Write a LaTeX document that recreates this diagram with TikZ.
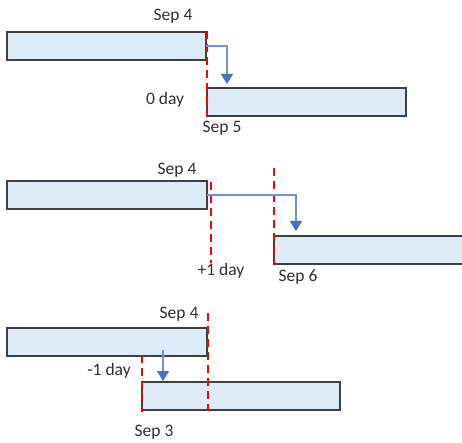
\documentclass[tikz,border=0pt]{standalone}
\usepackage{fontspec}
\setmainfont{Carlito}
\usetikzlibrary{arrows.meta}
\definecolor{barfill}{HTML}{DDEBF7}
\definecolor{barline}{HTML}{404040}
\definecolor{arrblue}{HTML}{4472C4}
\definecolor{arrline}{HTML}{6F93D6}
\definecolor{txt}{HTML}{303030}
\begin{document}
\begin{tikzpicture}[x=1pt,y=-1pt,
  bar/.style={draw=barline, fill=barfill, line width=1.3pt, minimum height=28pt, anchor=north west, inner sep=0pt, outer sep=0pt},
  lbl/.style={font=\fontsize{17.5}{19}\selectfont, text=txt, inner sep=0pt},
  reddash/.style={draw=red, line width=1.8pt, dash pattern=on 8pt off 5pt},
  arr/.style={draw=arrline, line width=1.2pt, -{Triangle[length=10pt,width=12pt,color=arrblue]}}]
\useasboundingbox (0,0) rectangle (462,443);
\clip (0,0) rectangle (462,443);
% ---------- section 1 ----------
\node[lbl] (t1a) at (173,16) {Sep 4};
\node[lbl] (t1b) at (165,100) {0 day};
\node[lbl] (t1c) at (222,128) {Sep 5};
\node[bar, minimum width=199pt] (a1) at (7,32) {};
\node[bar, minimum width=199pt] (b1) at (207,88) {};
\coordinate (r1t) at (207,31);
\coordinate (r1b) at (207,115);
\draw[reddash] (r1t) -- (r1b);
\coordinate (e1) at (227,84);
\draw[arr] (a1.east) -| (e1);
% ---------- section 2 ----------
\node[lbl] (t2a) at (177,170) {Sep 4};
\node[lbl] (t2b) at (221,271) {+1 day};
\node[lbl] (t2c) at (298,277) {Sep 6};
\node[bar, minimum width=200pt] (a2) at (7,181) {};
\node[bar, minimum width=200pt] (b2) at (274,236) {};
\coordinate (r2t) at (211,182);
\coordinate (r2b) at (211,263);
\draw[reddash] (r2t) -- (r2b);
\coordinate (r3t) at (274,168);
\coordinate (r3b) at (274,263);
\draw[reddash] (r3t) -- (r3b);
\coordinate (e2) at (296,231);
\draw[arr] (a2.east) -| (e2);
% ---------- section 3 ----------
\node[lbl] (t3a) at (179,314) {Sep 4};
\node[lbl] (t3b) at (109,371) {-1 day};
\node[lbl] (t3c) at (154,432) {Sep 3};
\node[bar, minimum width=200pt] (a3) at (7,328) {};
\node[bar, minimum width=198pt] (b3) at (142,382) {};
\coordinate (r4t) at (208,313);
\coordinate (r4b) at (208,411);
\draw[reddash] (r4t) -- (r4b);
\coordinate (r5t) at (142,355);
\coordinate (r5b) at (142,412);
\draw[reddash] (r5t) -- (r5b);
\coordinate (s3) at (163,350);
\coordinate (e3) at (163,381);
\draw[arr] (s3) -- (e3);
\end{tikzpicture}
\end{document}
